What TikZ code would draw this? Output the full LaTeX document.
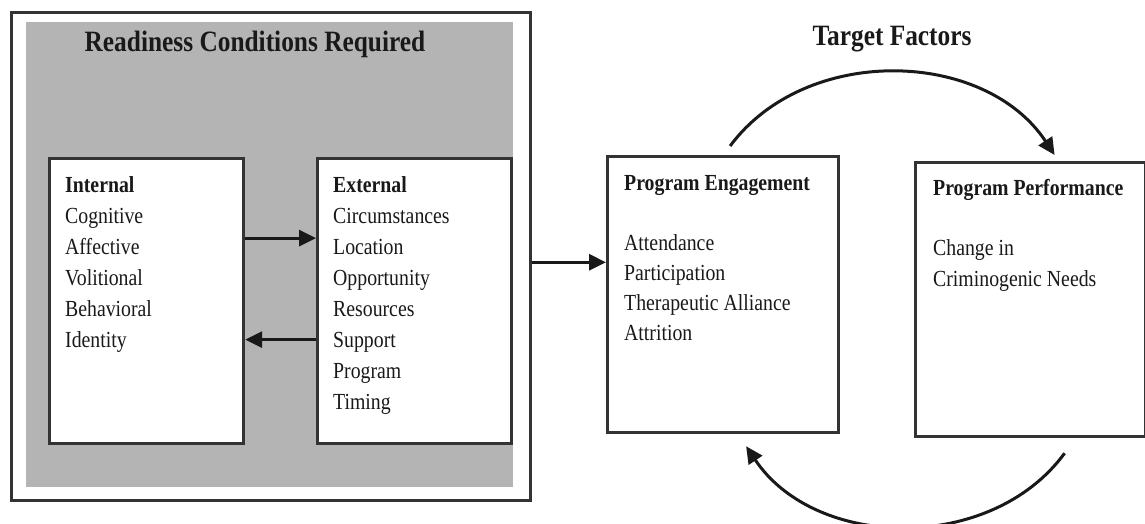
\documentclass[tikz,border=0pt]{standalone}
\usepackage{fontspec}
\setmainfont{Liberation Serif}[FakeStretch=0.86]
\usetikzlibrary{arrows.meta,calc}
\definecolor{panelgrey}{HTML}{B4B4B4}
\definecolor{edgegrey}{HTML}{333333}

\begin{document}
\begin{tikzpicture}[x=1pt,y=-1pt,
        box/.style={draw=edgegrey, line width=3.2pt, fill=white, inner sep=0pt, anchor=north west},
        item/.style={anchor=base west, inner sep=0pt, text=black!90, font=\fontsize{23}{31}\selectfont},
        head/.style={item, font=\fontsize{23}{31}\selectfont\bfseries},
        title/.style={anchor=base, inner sep=0pt, text=black!90, font=\fontsize{29.5}{35}\selectfont\bfseries},
        arr/.style={draw=black!90, line width=3pt, -{Triangle[length=17pt,width=16pt]}}]
                        \useasboundingbox (0,0) rectangle (1145,524);
                        \node [box, line width=2.6pt, minimum width=519pt, minimum height=488pt] (outer) at (10,11) {};
                        \node [anchor=north west, fill=panelgrey, inner sep=0pt, minimum width=487pt, minimum height=465pt] (panel) at (26,22) {};
                        \node [box, minimum width=194pt, minimum height=285pt] (internal) at (48,157) {};
                        \node [box, minimum width=194pt, minimum height=285pt] (external) at (316,157) {};
                        \node [box, minimum width=231pt, minimum height=276pt] (engage) at (606,155) {};
                        \node [box, minimum width=230pt, minimum height=274pt] (perform) at (914,161) {};

                        \node [title] (readiness) at (255,52) {Readiness Conditions Required};
                        \node [title] (target) at (892,46) {Target Factors};

                        \node [head] (inthead) at (65,192) {Internal};
                        \foreach \w [count=\i] in {Cognitive,Affective,Volitional,Behavioral,Identity}
                        {
                            \node [item] (int\i) at (65,192+31*\i) {\w};
                        }
                        \node [head] (exthead) at (333,192) {External};
                        \foreach \w [count=\i] in {Circumstances,Location,Opportunity,Resources,Support,Program,Timing}
                        {
                            \node [item] (ext\i) at (333,192+31*\i) {\w};
                        }
                        \node [head] (enghead) at (624,190) {Program Engagement};
                        \foreach \w [count=\i] in {Attendance,Participation,Therapeutic Alliance,Attrition}
                        {
                            \node [item] (eng\i) at (624,220+30*\i) {\w};
                        }
                        \node [head] (perfhead) at (933,195) {Program Performance};
                        \node [item] (perf1) at (933,255) {Change in};
                        \node [item] (perf2) at (933,286) {Criminogenic Needs};

                        \draw [arr] ([yshift=63pt]internal.east) -- ([yshift=63pt]external.west);
                        \draw [arr] ([yshift=-38.5pt]external.west) -- ([yshift=-38.5pt]internal.east);
                        \coordinate (feed) at ([yshift=-6pt]outer.east);
                        \draw [arr] (feed) -- (feed -| engage.west);
                        \draw [arr] ([xshift=7pt,yshift=9pt]engage.north) to[bend left=55] ([xshift=24pt,yshift=6pt]perform.north);
                        \draw [arr] ([xshift=34pt,yshift=-15pt]perform.south) to[bend left=55] ([xshift=23pt,yshift=-12pt]engage.south);
                    \end{tikzpicture}
\end{document}
